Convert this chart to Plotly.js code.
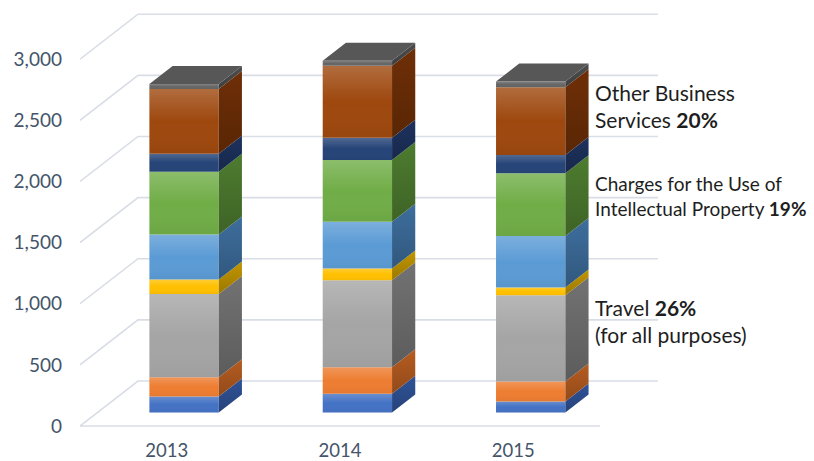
<!DOCTYPE html>
<html>
<head>
<meta charset="utf-8">
<script src="https://cdn.plot.ly/plotly-3.0.1.min.js"></script>
<style>html,body{margin:0;padding:0;background:#fff;}#chart{width:814px;height:461px;}</style>
</head>
<body>
<div id="chart"></div>
<script>
// ---- data ----
const years = ['2013', '2014', '2015'];
const seriesNames = ['Maintenance and Repair', 'Transport', 'Travel', 'Insurance', 'Financial',
  'Charges for the Use of Intellectual Property', 'Telecommunications, Computer, and Information',
  'Other Business Services', 'Government Goods and Services'];
const maintenance = [131, 153, 90];
const transport = [158, 218, 164];
const travel = [681, 711, 705];
const insurance = [118, 96, 63];
const financial = [368, 382, 421];
const intellectualProperty = [514, 506, 513];
const telecom = [147, 182, 151];
const otherBusiness = [528, 588, 554];
const government = [41, 41, 46];
const yTicks = [0, 500, 1000, 1500, 2000, 2500, 3000];

// ---- styles ----
const frontColors = ['#4472C4', '#ED7D31', '#A5A5A5', '#FFC000', '#5B9BD5', '#70AD47', '#264478', '#9E480E', '#666666'];
const sideColors = ['#2b4b8a', '#a5541d', '#686868', '#b08800', '#38648f', '#46712b', '#1a2d55', '#652b06', '#474747'];
const topColor = '#575757';

function shade(hex, f) {
  const n = parseInt(hex.slice(1), 16);
  const c = [(n >> 16) & 255, (n >> 8) & 255, n & 255].map(x => Math.max(0, Math.min(255, Math.round(x * f))));
  return `rgb(${c[0]},${c[1]},${c[2]})`;
}

const series = [maintenance, transport, travel, insurance, financial, intellectualProperty, telecom, otherBusiness, government];

// oblique 3D projection: full floor depth moves (k x-units, D y-units)
const k = 0.3347, D = 368;
const dFront = 0.3, dBack = 0.7, halfW = 0.2;
const xIdx = years.map((_, i) => i);

const traces = [];
const sheen = [];
const cum = years.map(() => 0);
series.forEach((vals, s) => {
  const bases = cum.map(c => c + dFront * D);
  traces.push({
    type: 'bar', name: seriesNames[s], x: xIdx, y: vals, base: bases,
    width: 0.4, offset: dFront * k - halfW,
    marker: {color: frontColors[s], line: {width: 0}},
    hoverinfo: 'skip'
  });
  vals.forEach((v, i) => {
    const v0 = cum[i], v1 = cum[i] + v;
    const xl = i - halfW, xr = i + halfW;
    // side face
    traces.push({
      type: 'scatter', mode: 'lines', fill: 'toself', hoverinfo: 'skip',
      x: [xr + dFront * k, xr + dBack * k, xr + dBack * k, xr + dFront * k, xr + dFront * k],
      y: [v0 + dFront * D, v0 + dBack * D, v1 + dBack * D, v1 + dFront * D, v0 + dFront * D],
      fillcolor: sideColors[s], line: {width: 0, color: sideColors[s]},
      fillgradient: {type: 'vertical', colorscale: [[0, shade(sideColors[s], 0.88)], [1, shade(sideColors[s], 1.1)]]}
    });
    // subtle light sheen on the front face (gradient overlay)
    sheen.push({
      type: 'scatter', mode: 'lines', fill: 'toself', hoverinfo: 'skip',
      x: [xl + dFront * k, xr + dFront * k, xr + dFront * k, xl + dFront * k, xl + dFront * k],
      y: [v0 + dFront * D, v0 + dFront * D, v1 + dFront * D, v1 + dFront * D, v0 + dFront * D],
      fillcolor: 'rgba(255,255,255,0)', line: {width: 0, color: 'rgba(0,0,0,0)'},
      fillgradient: {type: 'vertical', colorscale: [[0, 'rgba(0,0,0,0.04)'], [0.5, 'rgba(255,255,255,0)'], [1, 'rgba(255,255,255,0.2)']]}
    });
  });
  vals.forEach((v, i) => { cum[i] += v; });
});
// top faces
cum.forEach((t, i) => {
  const xl = i - halfW, xr = i + halfW;
  traces.push({
    type: 'scatter', mode: 'lines', fill: 'toself', hoverinfo: 'skip',
    x: [xl + dFront * k, xr + dFront * k, xr + dBack * k, xl + dBack * k, xl + dFront * k],
    y: [t + dFront * D, t + dFront * D, t + dBack * D, t + dBack * D, t + dFront * D],
    fillcolor: topColor, line: {width: 0, color: topColor}
  });
});
traces.push(...sheen);

// gridlines on side wall + back wall (drawn below the traces)
const gridColor = '#d9dde5';
const xMin = -0.5, xMax = years.length - 0.5;
const shapes = yTicks.map(v => ({
  type: 'path', xref: 'x', yref: 'y', layer: 'below',
  path: `M ${xMin},${v} L ${xMin + k},${v + D} L ${xMax + k},${v + D}`,
  line: {color: gridColor, width: 1.6}
}));
shapes.push({type: 'line', xref: 'x', yref: 'y', layer: 'below', x0: xMin, x1: xMax, y0: 0, y1: 0,
  line: {color: gridColor, width: 1.6}});

const font = 'Lato, "Open Sans", sans-serif';
const annotations = [
  {text: 'Other Business<br>Services <b>20%</b>', y: 2615},
  {text: 'Charges for the Use of<br>Intellectual Property <b>19%</b>', y: 1879, size: 19},
  {text: 'Travel <b>26%</b><br>(for all purposes)', y: 859}
].map(a => ({
  text: a.text, x: 2.46, y: a.y, xref: 'x', yref: 'y', xanchor: 'left', yanchor: 'middle',
  align: 'left', showarrow: false, font: {family: font, size: a.size || 21, color: '#1e1e1e'}
}));

const layout = {
  width: 814, height: 461,
  margin: {l: 80, r: 0, t: 10, b: 31},
  paper_bgcolor: '#ffffff', plot_bgcolor: '#ffffff',
  showlegend: false, barmode: 'overlay',
  xaxis: {range: [-0.5, 3.735], tickvals: xIdx, ticktext: years, showgrid: false, zeroline: false,
    showline: false, ticks: '', ticklabelstandoff: 7,
    tickfont: {family: font, size: 18.5, color: '#44546a'}, fixedrange: true},
  yaxis: {range: [-32.7, 3402.3], tickvals: yTicks, tickformat: ',d', showgrid: false, zeroline: false,
    showline: false, ticks: '', ticklabelstandoff: 17,
    tickfont: {family: font, size: 19, color: '#44546a'}, fixedrange: true},
  shapes: shapes,
  annotations: annotations
};

Plotly.newPlot('chart', traces, layout, {displayModeBar: false, staticPlot: true});
</script>
</body>
</html>
